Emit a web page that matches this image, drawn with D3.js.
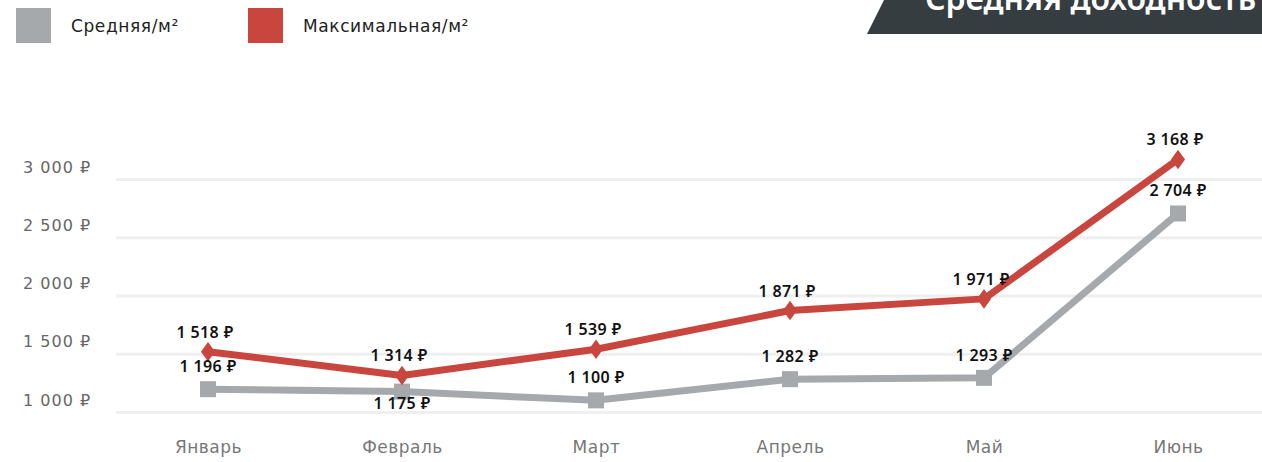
<!DOCTYPE html>
<html><head><meta charset="utf-8">
<script src="https://cdn.jsdelivr.net/npm/d3@7"></script>
<style>
html,body{margin:0;padding:0;background:#fff;}
svg{display:block;}
text{font-family:"Noto Sans","Open Sans",sans-serif;}
</style></head>
<body>
<svg id="chart" width="1262" height="462"></svg>
<script>
const months = ["Январь","Февраль","Март","Апрель","Май","Июнь"];
const avgValues = [1196,1175,1100,1282,1293,2704];
const maxValues = [1518,1314,1539,1871,1971,3168];
const yTicks = [1000,1500,2000,2500,3000];
const seriesNames = ["Средняя/м²","Максимальная/м²"];
const titleText = "Средняя доходность";
const avgLabelSide = ["above","below","above","above","above","above"];

const svg = d3.select("#chart");
const W = 1262, H = 462;
const x = d3.scalePoint().domain(months).range([208,1178]);
const y = d3.scaleLinear().domain([1000,3000]).range([412,179]);
const fmt = v => d3.format(",")(v).replace(/,/g," ") + " ₽";
const GRAY = "#a5a9ab", RED = "#c8463e";
const WIDE = "'DejaVu Sans',sans-serif";

// title banner
const bp = d3.path(); bp.moveTo(867,34); bp.lineTo(884,0); bp.lineTo(W,0); bp.lineTo(W,34); bp.closePath();
svg.append("path").attr("d", bp.toString()).attr("fill","#363d40");
svg.append("text").attr("x",925).attr("y",10).attr("fill","#fff")
  .style("font-size","32px").style("font-weight","600").text(titleText);

// legend
const legend = svg.append("g");
[[GRAY,16,71],[RED,248,303]].forEach((d,i)=>{
  legend.append("rect").attr("x",d[1]).attr("y",8).attr("width",35).attr("height",35).attr("fill",d[0]);
  legend.append("text").attr("x",d[2]).attr("y",26).attr("dominant-baseline","central")
    .attr("fill","#222").style("font-size","17px").style("letter-spacing","0.6px").style("font-family",WIDE).text(seriesNames[i]);
});

// gridlines + y labels
const yAxis = d3.axisLeft(y).tickValues(yTicks).tickSize(-(W-116)).tickFormat(fmt);
const gy = svg.append("g").attr("transform","translate(116,0)").call(yAxis);
gy.select(".domain").remove();
gy.selectAll(".tick line").attr("stroke","#efefef").attr("stroke-width",3);
gy.selectAll(".tick text").attr("x",-93).attr("dy",-7).attr("text-anchor","start")
  .attr("fill","#666").style("font-size","16px").style("letter-spacing","1px").style("font-family",WIDE);

// x labels
const xAxis = d3.axisBottom(x).tickSize(0).tickPadding(0);
const gx = svg.append("g").attr("transform","translate(0,447)").call(xAxis);
gx.select(".domain").remove();
gx.selectAll(".tick text").attr("dy","0.35em").attr("y",0)
  .attr("fill","#777").style("font-size","17px").style("letter-spacing","0.5px").style("font-family",WIDE);

const line = d3.line().x((d,i)=>x(months[i])).y(d=>y(d));

// gray series
svg.append("path").datum(avgValues).attr("d",line).attr("fill","none")
  .attr("stroke",GRAY).attr("stroke-width",7).attr("stroke-linejoin","miter");
svg.selectAll("rect.avg").data(avgValues).join("rect").attr("class","avg")
  .attr("x",(d,i)=>x(months[i])-8).attr("y",d=>y(d)-8).attr("width",16).attr("height",16).attr("fill",GRAY);

// red series
svg.append("path").datum(maxValues).attr("d",line).attr("fill","none")
  .attr("stroke",RED).attr("stroke-width",7).attr("stroke-linejoin","round");
const sym = d3.symbol().type(d3.symbolDiamond).size(110);
svg.selectAll("path.max").data(maxValues).join("path").attr("class","max")
  .attr("d",sym).attr("transform",(d,i)=>`translate(${x(months[i])},${y(d)}) scale(1.25,1)`).attr("fill",RED);

// labels
svg.selectAll("text.maxl").data(maxValues).join("text").attr("class","maxl")
  .attr("x",(d,i)=>x(months[i])-3).attr("y",d=>y(d)-20).attr("text-anchor","middle").attr("dominant-baseline","central")
  .attr("fill","#111").style("font-size","16px").style("font-weight","600").style("letter-spacing","0.4px").text(fmt);
svg.selectAll("text.avgl").data(avgValues).join("text").attr("class","avgl")
  .attr("x",(d,i)=>x(months[i])).attr("y",(d,i)=>avgLabelSide[i]==="above"? y(d)-23 : y(d)+11)
  .attr("text-anchor","middle").attr("dominant-baseline","central")
  .attr("fill","#111").style("font-size","16px").style("font-weight","600").style("letter-spacing","0.4px").text(fmt);
</script>
</body></html>
